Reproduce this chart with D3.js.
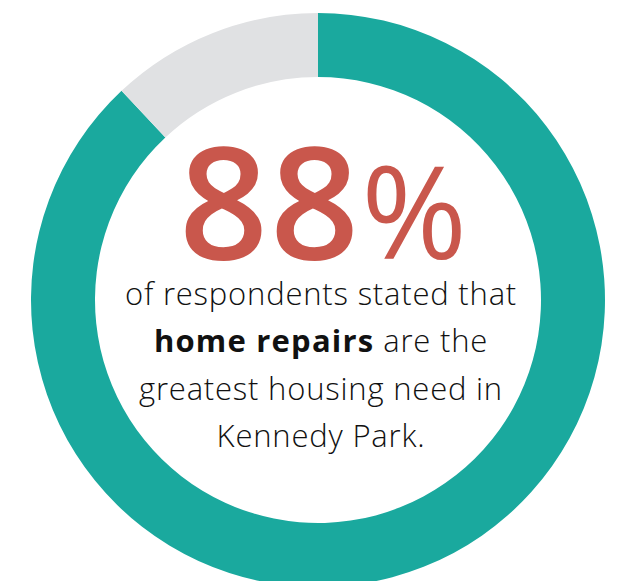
<!DOCTYPE html>
<html>
<head>
<meta charset="utf-8">
<script src="https://cdn.jsdelivr.net/npm/d3@7"></script>
<style>
  html, body { margin: 0; padding: 0; background: #fff; }
  svg { display: block; }
</style>
</head>
<body>
<div id="chart"></div>
<script>
// Datos del gráfico
const categories = ['Home repairs', 'Other'];
const values = [88, 12];
const colors = ['#1aa99e', '#e0e1e3'];

const bigNumber = '88';
const bigSuffix = '%';
const lines = [
    [{ t: 'of respondents stated that', b: false }],
    [{ t: 'home repairs', b: true }, { t: ' are the', b: false }],
    [{ t: 'greatest housing need in', b: false }],
    [{ t: 'Kennedy Park.', b: false }]
];

const width = 620;
const height = 581;
const cx = 318, cy = 300;
const outerR = 287, innerR = 223;

const svg = d3.select('#chart')
    .append('svg')
    .attr('width', width)
    .attr('height', height);

const g = svg.append('g')
    .attr('transform', `translate(${cx},${cy})`);

// Anillo
const pie = d3.pie().sort(null).value(d => d);
const arc = d3.arc().innerRadius(innerR).outerRadius(outerR);

g.selectAll('path')
    .data(pie(values))
    .enter()
    .append('path')
    .attr('d', arc)
    .attr('fill', (d, i) => colors[i]);

// Número grande
const big = g.append('text')
    .attr('x', 5)
    .attr('y', -41)
    .attr('text-anchor', 'middle')
    .attr('fill', '#c9574c')
    .style('font-family', '"Open Sans", sans-serif');

big.append('tspan')
    .style('font-size', '156px')
    .style('font-weight', 600)
    .style('letter-spacing', '2px')
    .text(bigNumber);

big.append('tspan')
    .style('font-size', '128px')
    .style('font-weight', 400)
    .text(bigSuffix);

// Texto descriptivo
const baselines = [5, 52, 100, 147];
lines.forEach((parts, i) => {
    const t = g.append('text')
        .attr('x', 3)
        .attr('y', baselines[i])
        .attr('text-anchor', 'middle')
        .attr('fill', '#111')
        .style('font-family', '"Open Sans", sans-serif')
        .style('font-size', '31px');
    parts.forEach(p => {
        t.append('tspan')
            .style('font-weight', p.b ? 700 : 300)
            .style('letter-spacing', p.b ? '1.2px' : '0.8px')
            .text(p.t);
    });
});
</script>
</body>
</html>
